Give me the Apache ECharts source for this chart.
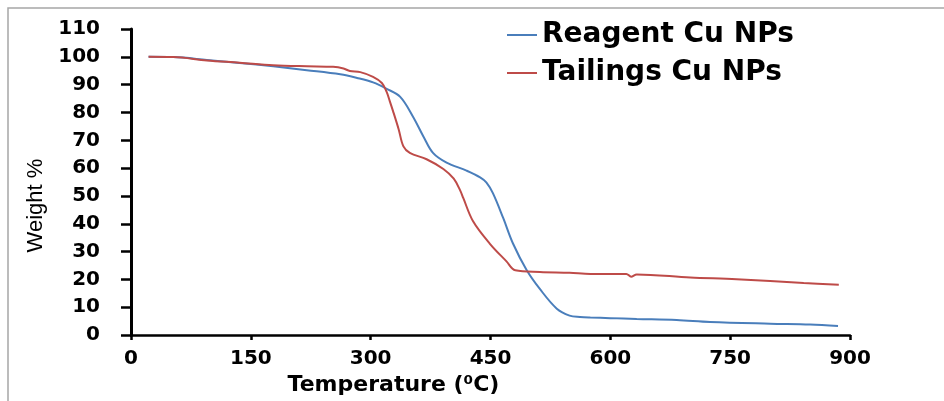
<!DOCTYPE html>
<html>
<head>
<meta charset="utf-8">
<script src="https://cdn.jsdelivr.net/npm/echarts@6/dist/echarts.min.js"></script>
<style>
  html, body { margin: 0; padding: 0; background: #fff; }
  #chart { width: 944px; height: 401px; }
</style>
</head>
<body>
<div id="chart"></div>
<script>
// TGA curves: temperature (°C) vs remaining weight (%)
const reagentTemp = [22, 53, 95, 136, 178, 220, 262, 283, 303, 320, 337, 353, 366, 378, 395, 420, 437, 445, 453, 466, 478, 495, 512, 533, 549, 562, 575, 600, 633, 683, 725, 800, 850, 885];
const reagentWeight = [100, 99.9, 98.9, 97.8, 96.6, 95.2, 93.7, 92.4, 90.8, 88.5, 85.6, 78.5, 71.4, 65.5, 62.0, 59.1, 56.7, 54.8, 51, 42, 33, 23.5, 16.5, 9.5, 7.0, 6.5, 6.3, 6.1, 5.8, 5.4, 4.7, 4.1, 3.8, 3.3];

const tailingsTemp = [22, 53, 95, 136, 178, 220, 253, 266, 274, 287, 303, 314, 320, 324, 328, 335, 341, 349, 370, 391, 404, 412, 416, 428, 449, 470, 481, 512, 549, 575, 620, 626, 633, 700, 758, 842, 886];
const tailingsWeight = [100, 99.9, 98.7, 97.9, 97.0, 96.6, 96.4, 95.8, 94.9, 94.5, 92.8, 90.6, 87.4, 84, 80.5, 74, 67.8, 65.5, 63.2, 59.7, 56.2, 52, 49.2, 41, 32.9, 26.5, 23.3, 22.7, 22.4, 22.0, 22.0, 21.0, 21.8, 20.7, 20.1, 18.7, 18.1];

const seriesNames = ['Reagent Cu NPs', 'Tailings Cu NPs'];
const seriesColors = ['#4a7ebb', '#be4b48'];

const pair = (xs, ys) => xs.map((x, i) => [x, ys[i]]);

const chart = echarts.init(document.getElementById('chart'));
chart.setOption({
  animation: false,
  backgroundColor: '#fff',
  graphic: [{
    type: 'polyline',
    shape: { points: [[8, 401], [8, 8], [944, 8]] },
    style: { stroke: '#a6a6a6', lineWidth: 1.5, fill: null },
    silent: true
  }],
  grid: { left: 131, right: 94, top: 29, bottom: 57, containLabel: false },
  legend: {
    orient: 'vertical',
    left: 502,
    top: 15,
    itemWidth: 30,
    itemHeight: 2,
    itemGap: 8,
    icon: 'rect',
    textStyle: {
      fontFamily: 'DejaVu Sans', fontWeight: 'bold', fontSize: 28,
      color: '#000', lineHeight: 30
    },
    data: seriesNames
  },
  xAxis: {
    type: 'value',
    min: 0, max: 900, interval: 150,
    name: 'Temperature (⁰C)',
    nameLocation: 'middle',
    nameGap: 37,
    nameTextStyle: {
      fontFamily: 'DejaVu Sans', fontWeight: 'bold', fontSize: 22, color: '#000',
      padding: [0, 194, 0, 0]
    },
    axisLine: { show: true, lineStyle: { color: '#000', width: 2.5 } },
    axisTick: { show: true, length: 5, lineStyle: { color: '#000', width: 2.5 } },
    axisLabel: { margin: 14, fontFamily: 'DejaVu Sans', fontWeight: 'bold', fontSize: 20, color: '#000' },
    splitLine: { show: false }
  },
  yAxis: {
    type: 'value',
    min: 0, max: 110, interval: 10,
    name: 'Weight %',
    nameLocation: 'middle',
    nameGap: 84,
    nameRotate: 90,
    nameTextStyle: {
      fontFamily: 'Liberation Sans', fontSize: 22, color: '#000',
      padding: [0, 47, 0, 0]
    },
    axisLine: { show: true, lineStyle: { color: '#000', width: 3 } },
    axisTick: { show: true, length: 10, lineStyle: { color: '#000', width: 2.5 } },
    axisLabel: { margin: 31, fontFamily: 'DejaVu Sans', fontWeight: 'bold', fontSize: 20, color: '#000' },
    splitLine: { show: false }
  },
  series: [
    {
      name: seriesNames[0], type: 'line', showSymbol: false,
      smooth: 0.35,
      lineStyle: { color: seriesColors[0], width: 2 },
      itemStyle: { color: seriesColors[0] },
      data: pair(reagentTemp, reagentWeight)
    },
    {
      name: seriesNames[1], type: 'line', showSymbol: false,
      smooth: 0.35,
      lineStyle: { color: seriesColors[1], width: 2 },
      itemStyle: { color: seriesColors[1] },
      data: pair(tailingsTemp, tailingsWeight)
    }
  ]
});
</script>
</body>
</html>
